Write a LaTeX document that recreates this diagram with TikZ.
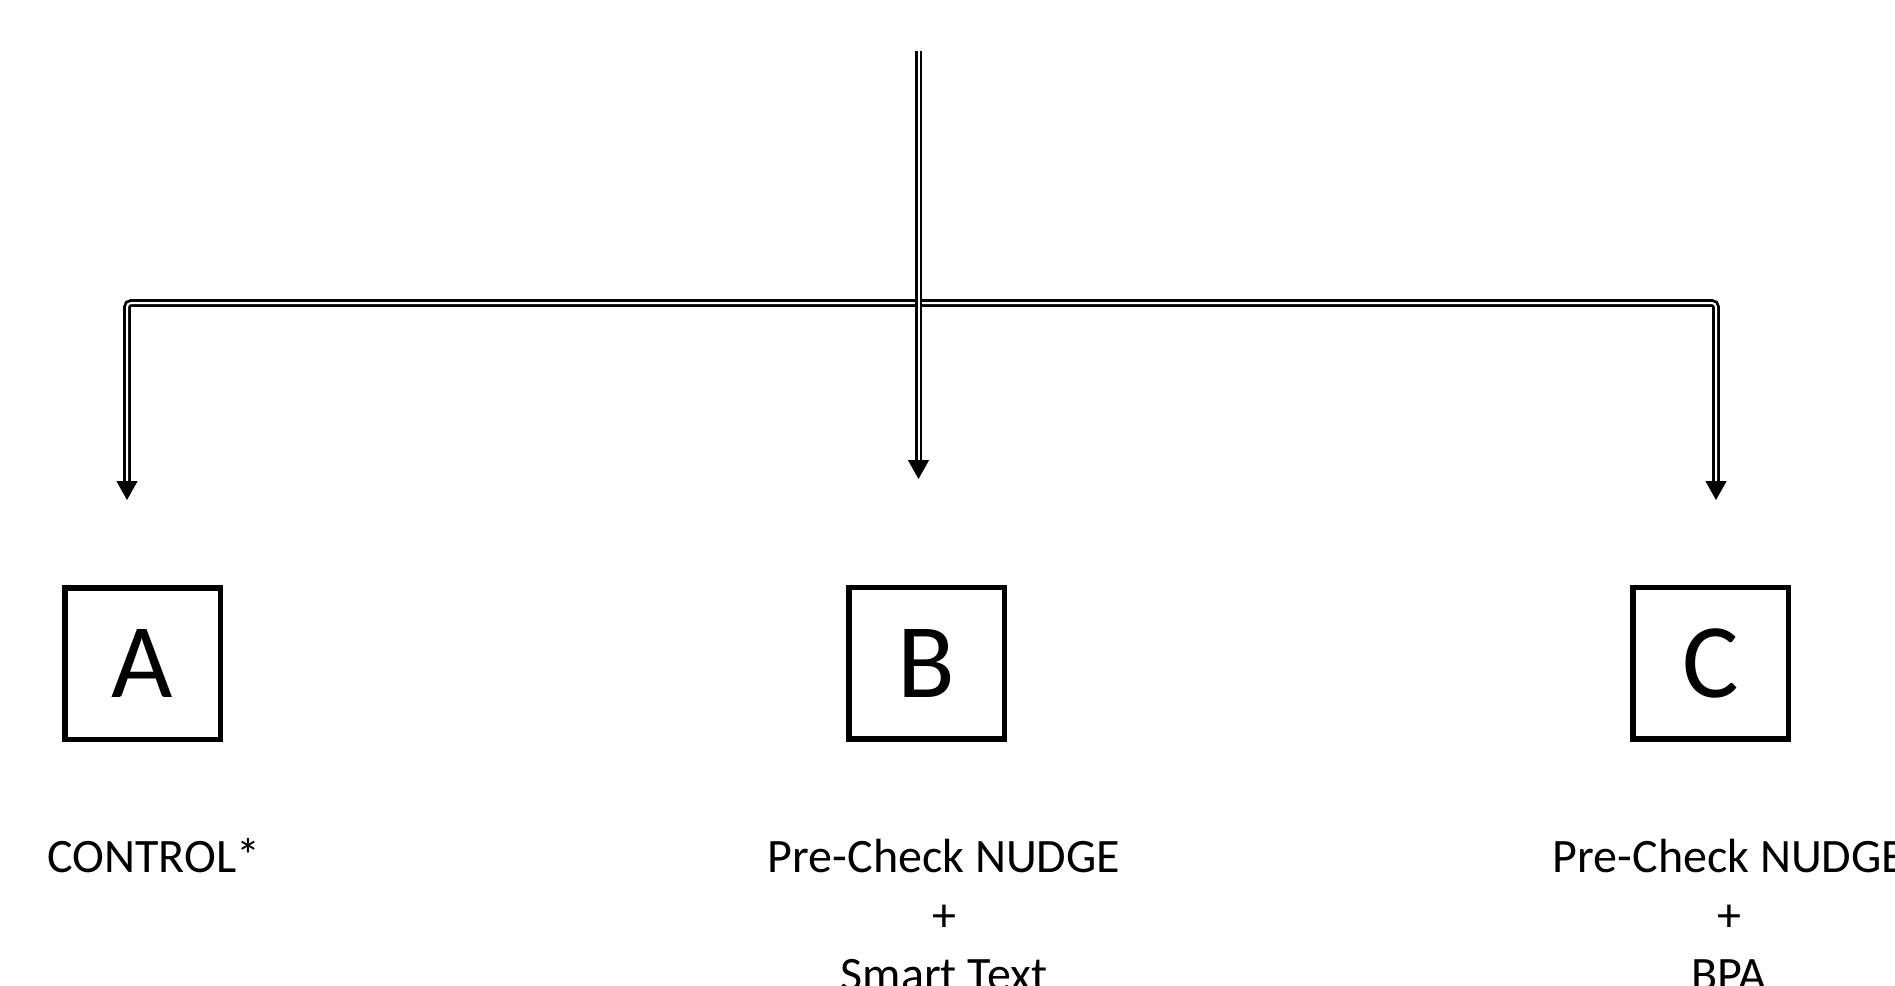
\documentclass[tikz,border=0pt]{standalone}
\usepackage{fontspec}
\setmainfont{Carlito}
\usetikzlibrary{arrows.meta,calc}
\tikzset{
  dbl/.style={draw=black,line width=1.4pt,double=white,double distance=1pt,rounded corners=2pt},
  tipline/.style={draw=black,line width=0.6pt,-{Triangle[width=10.5pt,length=9.5pt]}},
  letterbox/.style={draw=black,line width=2.75pt,minimum width=77.75pt,minimum height=75.75pt,inner sep=0pt,font=\fontsize{53}{60}\selectfont},
  label/.style={font=\fontsize{24}{29.5}\selectfont,align=center,inner sep=0pt}
}
\begin{document}
\begin{tikzpicture}[x=0.5pt,y=-0.5pt]
\clip (0,0) rectangle (1895,985);
\fill[white] (0,0) rectangle (1895,985);
% coordinates
\coordinate (top) at (918.5,51);
\coordinate (jB) at (918.5,303);
\coordinate (jL) at (127,303);
\coordinate (jR) at (1716,303);
\coordinate (tipL) at (127,500);
\coordinate (tipB) at (918.5,479);
\coordinate (tipR) at (1716,500);
\coordinate (aL) at (127,481);
\coordinate (aB) at (918.5,460);
\coordinate (aR) at (1716,481);
% boxes
\node[letterbox] (A) at (142.5,663.5) {A};
\node[letterbox] (B) at (926.5,663) {B};
\node[letterbox] (C) at (1710.5,663) {C};
% labels
\node[label,anchor=base west] (la) at (47,872) {CONTROL*};
\node[label,anchor=base] (lb) at (944,990) {Pre-Check NUDGE\\+\\Smart Text};
\node[label,anchor=base] (lc) at (1729,990) {Pre-Check NUDGE\\+\\BPA};
% connectors
\draw[dbl] (aL) -- (jL) -- (jR) -- (aR);
\draw[tipline] (aL) -- (tipL);
\draw[tipline] (aR) -- (tipR);
\draw[dbl] (top) -- (aB);
\draw[tipline] (aB) -- (tipB);
\end{tikzpicture}
\end{document}
